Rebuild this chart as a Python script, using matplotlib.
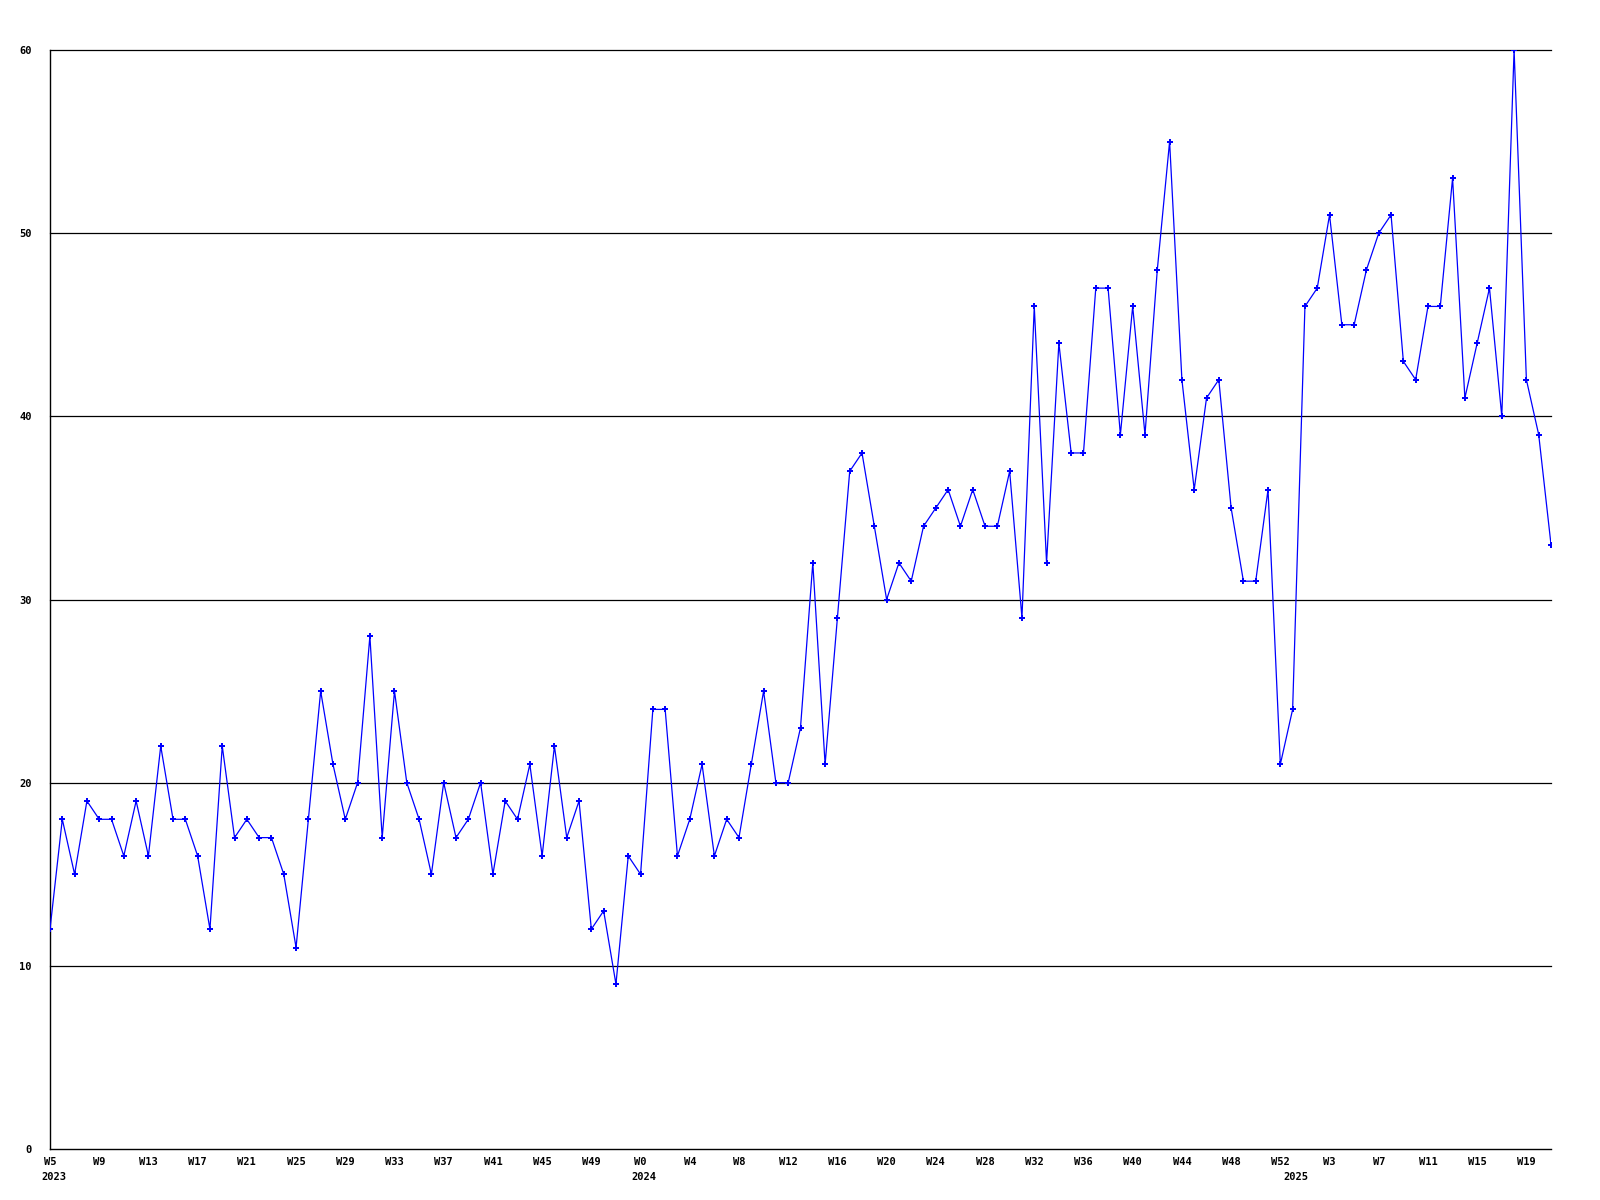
import matplotlib
matplotlib.use('Agg')
import matplotlib.pyplot as plt

# weekly counts, W5 2023 .. W21 2025
values_2023 = [12, 18, 15, 19, 18, 18, 16, 19, 16, 22, 18, 18, 16, 12, 22, 17,
               18, 17, 17, 15, 11, 18, 25, 21, 18, 20, 28, 17, 25, 20, 18, 15,
               20, 17, 18, 20, 15, 19, 18, 21, 16, 22, 17, 19, 12, 13, 9, 16]
values_2024 = [15, 24, 24, 16, 18, 21, 16, 18, 17, 21, 25, 20, 20, 23, 32, 21,
               29, 37, 38, 34, 30, 32, 31, 34, 35, 36, 34, 36, 34, 34, 37, 29,
               46, 32, 44, 38, 38, 47, 47, 39, 46, 39, 48, 55, 42, 36, 41, 42,
               35, 31, 31, 36, 21]
values_2025 = [24, 46, 47, 51, 45, 45, 48, 50, 51, 43, 42, 46, 46, 53, 41, 44,
               47, 40, 60, 42, 39, 33]
values = values_2023 + values_2024 + values_2025

tick_labels = ['W5', 'W9', 'W13', 'W17', 'W21', 'W25', 'W29', 'W33', 'W37',
               'W41', 'W45', 'W49',
               'W0', 'W4', 'W8', 'W12', 'W16', 'W20', 'W24', 'W28', 'W32',
               'W36', 'W40', 'W44', 'W48', 'W52',
               'W3', 'W7', 'W11', 'W15', 'W19']
years = ['2023', '2024', '2025']
year_starts = [0, len(values_2023), len(values_2023) + len(values_2024)]

x = list(range(len(values)))
font = {'family': 'DejaVu Sans Mono', 'weight': 'bold', 'size': 7.5}

fig = plt.figure(figsize=(16, 12), dpi=100)
ax = fig.add_axes([50 / 1600, 1 - 1149 / 1200, 1501 / 1600, 1099 / 1200])

for yv in range(10, 61, 10):
    ax.axhline(yv, color='black', lw=0.9, zorder=1, clip_on=False)

ax.plot(x, values, color='#0000ff', lw=0.9, marker='P', markersize=4.5,
        markeredgewidth=0, zorder=3)

ax.set_xlim(0, len(values) - 1)
ax.set_ylim(0, 60)
ax.set_yticks(range(0, 61, 10))
ax.set_yticklabels([str(v) for v in range(0, 61, 10)], fontdict=font)
ax.set_xticks(range(0, len(values), 4))
ax.set_xticklabels(tick_labels, fontdict=font)
ax.tick_params(axis='y', length=0, pad=13)
ax.tick_params(axis='x', length=0, pad=6)

for sp in ['top', 'right']:
    ax.spines[sp].set_visible(False)
for sp in ['left', 'bottom']:
    ax.spines[sp].set_linewidth(1.0)
    ax.spines[sp].set_color('black')

for yr, start in zip(years, year_starts):
    ax.text(start + 0.3, -0.0255, yr, transform=ax.get_xaxis_transform(),
            ha='center', va='center', fontdict=font)

fig.savefig('out.png', dpi=100, facecolor='white')
